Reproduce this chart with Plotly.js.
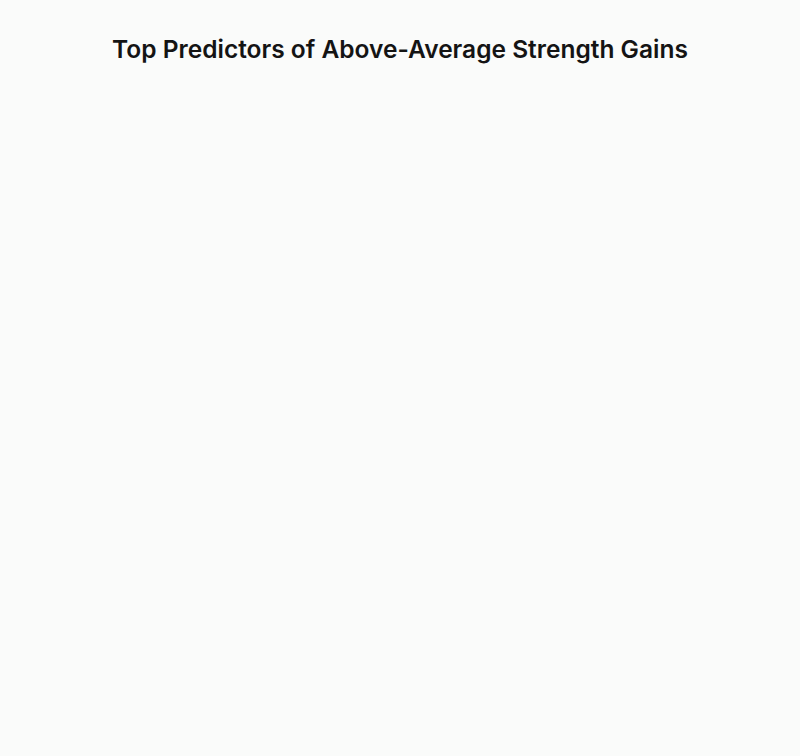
<!DOCTYPE html>
<html>
<head>
<meta charset="utf-8">
<script src="https://cdn.plot.ly/plotly-3.0.1.min.js"></script>
<style>html,body{margin:0;padding:0;background:#fafbfa;}#chart{width:800px;height:756px;}</style>
</head>
<body>
<div id="chart"></div>
<script>
// The reference shows no visible marks: only the title is drawn.
const titleText = "Top Predictors of Above-Average Strength Gains";
const predictors = [];
const importance = [];

const data = [{
  type: "bar",
  orientation: "h",
  x: importance,
  y: predictors,
  marker: {color: "#2a6f97"},
  showlegend: false
}];

const layout = {
  width: 800,
  height: 756,
  paper_bgcolor: "#fafbfa",
  plot_bgcolor: "#fafbfa",
  title: {
    text: titleText,
    x: 0.5,
    xanchor: "center",
    yref: "container",
    y: 1 - 49/756,
    yanchor: "middle",
    font: {family: "Inter, Roboto, sans-serif", size: 24.5, color: "#141414", weight: 600}
  },
  margin: {l: 80, r: 40, t: 100, b: 60},
  xaxis: {visible: false},
  yaxis: {visible: false},
  showlegend: false
};

Plotly.newPlot("chart", data, layout, {displayModeBar: false, staticPlot: true});
</script>
</body>
</html>
